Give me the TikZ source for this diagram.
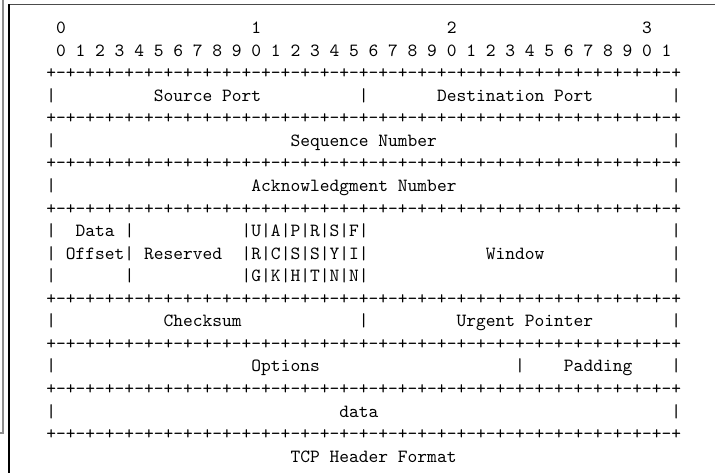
\documentclass[tikz,border=0pt]{standalone}
\usepackage{tikz}

% column / baseline of the character grid (in px of the reference)
\newcommand\cx[1]{46+9.766*(#1)}
\newcommand\by[1]{33.7+22.55*(#1)}
\newcommand\hrow{+-+-+-+-+-+-+-+-%
+-+-+-+-+-+-+-+-%
+-+-+-+-+-+-+-+-%
+-+-+-+-+-+-+-+-+}

\begin{document}
\begin{tikzpicture}[x=0.5376pt, y=-0.5376pt,
    mono/.style={font=\fontsize{10}{12}\selectfont\ttfamily, inner sep=0pt, anchor=base west}]
    \useasboundingbox (0,0) rectangle (715,473);

    % Frame
    \draw[gray!90, line width=1.4pt] (0,433) -- (3,433) -- (3,-2);
    \draw[gray!60!black, line width=0.8pt] (716,4.7) -- (9,4.7);
    \draw[black, line width=0.7pt] (9,4.3) -- (9,475);

    % Bit ruler
    \foreach \i in {0,...,3}
        \node[mono] (dec\i) at ({\cx{20*\i+1}},{\by{0}}) {\i};
    \foreach \i [evaluate=\i as \d using {int(mod(\i,10))}] in {0,...,31}
        \node[mono] (bit\i) at ({\cx{2*\i+1}},{\by{1}}) {\d};

    % Separator rows
    \foreach \r in {2,4,6,8,12,14,16,18}
        \node[mono] (sep\r) at ({\cx{0}},{\by{\r}}) {\hrow};

    % Outer bars
    \foreach \r in {3,5,7,9,10,11,13,15,17} {
        \node[mono] (lbar\r) at ({\cx{0}},{\by{\r}}) {|};
        \node[mono] (rbar\r) at ({\cx{64}},{\by{\r}}) {|};
    }

    % Ports
    \node[mono] (srcport) at ({\cx{11}},{\by{3}}) {Source Port};
    \node[mono] (midbar3) at ({\cx{32}},{\by{3}}) {|};
    \node[mono] (dstport) at ({\cx{40}},{\by{3}}) {Destination Port};

    % Sequence and acknowledgment
    \node[mono] (seqnum) at ({\cx{25}},{\by{5}}) {Sequence Number};
    \node[mono] (acknum) at ({\cx{21}},{\by{7}}) {Acknowledgment Number};

    % Offset, reserved, flags, window
    \node[mono] (dataoff) at ({\cx{3}},{\by{9}}) {Data};
    \node[mono] (offbar9) at ({\cx{8}},{\by{9}}) {|};
    \node[mono] (flags1) at ({\cx{20}},{\by{9}}) {|U|A|P|R|S|F|};
    \node[mono] (offset) at ({\cx{2}},{\by{10}}) {Offset|};
    \node[mono] (reserved) at ({\cx{10}},{\by{10}}) {Reserved};
    \node[mono] (flags2) at ({\cx{20}},{\by{10}}) {|R|C|S|S|Y|I|};
    \node[mono] (window) at ({\cx{45}},{\by{10}}) {Window};
    \node[mono] (offbar11) at ({\cx{8}},{\by{11}}) {|};
    \node[mono] (flags3) at ({\cx{20}},{\by{11}}) {|G|K|H|T|N|N|};

    % Checksum and urgent pointer
    \node[mono] (checksum) at ({\cx{12}},{\by{13}}) {Checksum};
    \node[mono] (midbar13) at ({\cx{32}},{\by{13}}) {|};
    \node[mono] (urgptr) at ({\cx{42}},{\by{13}}) {Urgent Pointer};

    % Options and padding
    \node[mono] (options) at ({\cx{21}},{\by{15}}) {Options};
    \node[mono] (padbar) at ({\cx{48}},{\by{15}}) {|};
    \node[mono] (padding) at ({\cx{53}},{\by{15}}) {Padding};

    % Payload
    \node[mono] (payload) at ({\cx{30}},{\by{17}}) {data};

    \node[mono] (caption) at ({\cx{25}},{\by{19}}) {TCP Header Format};
\end{tikzpicture}
\end{document}
